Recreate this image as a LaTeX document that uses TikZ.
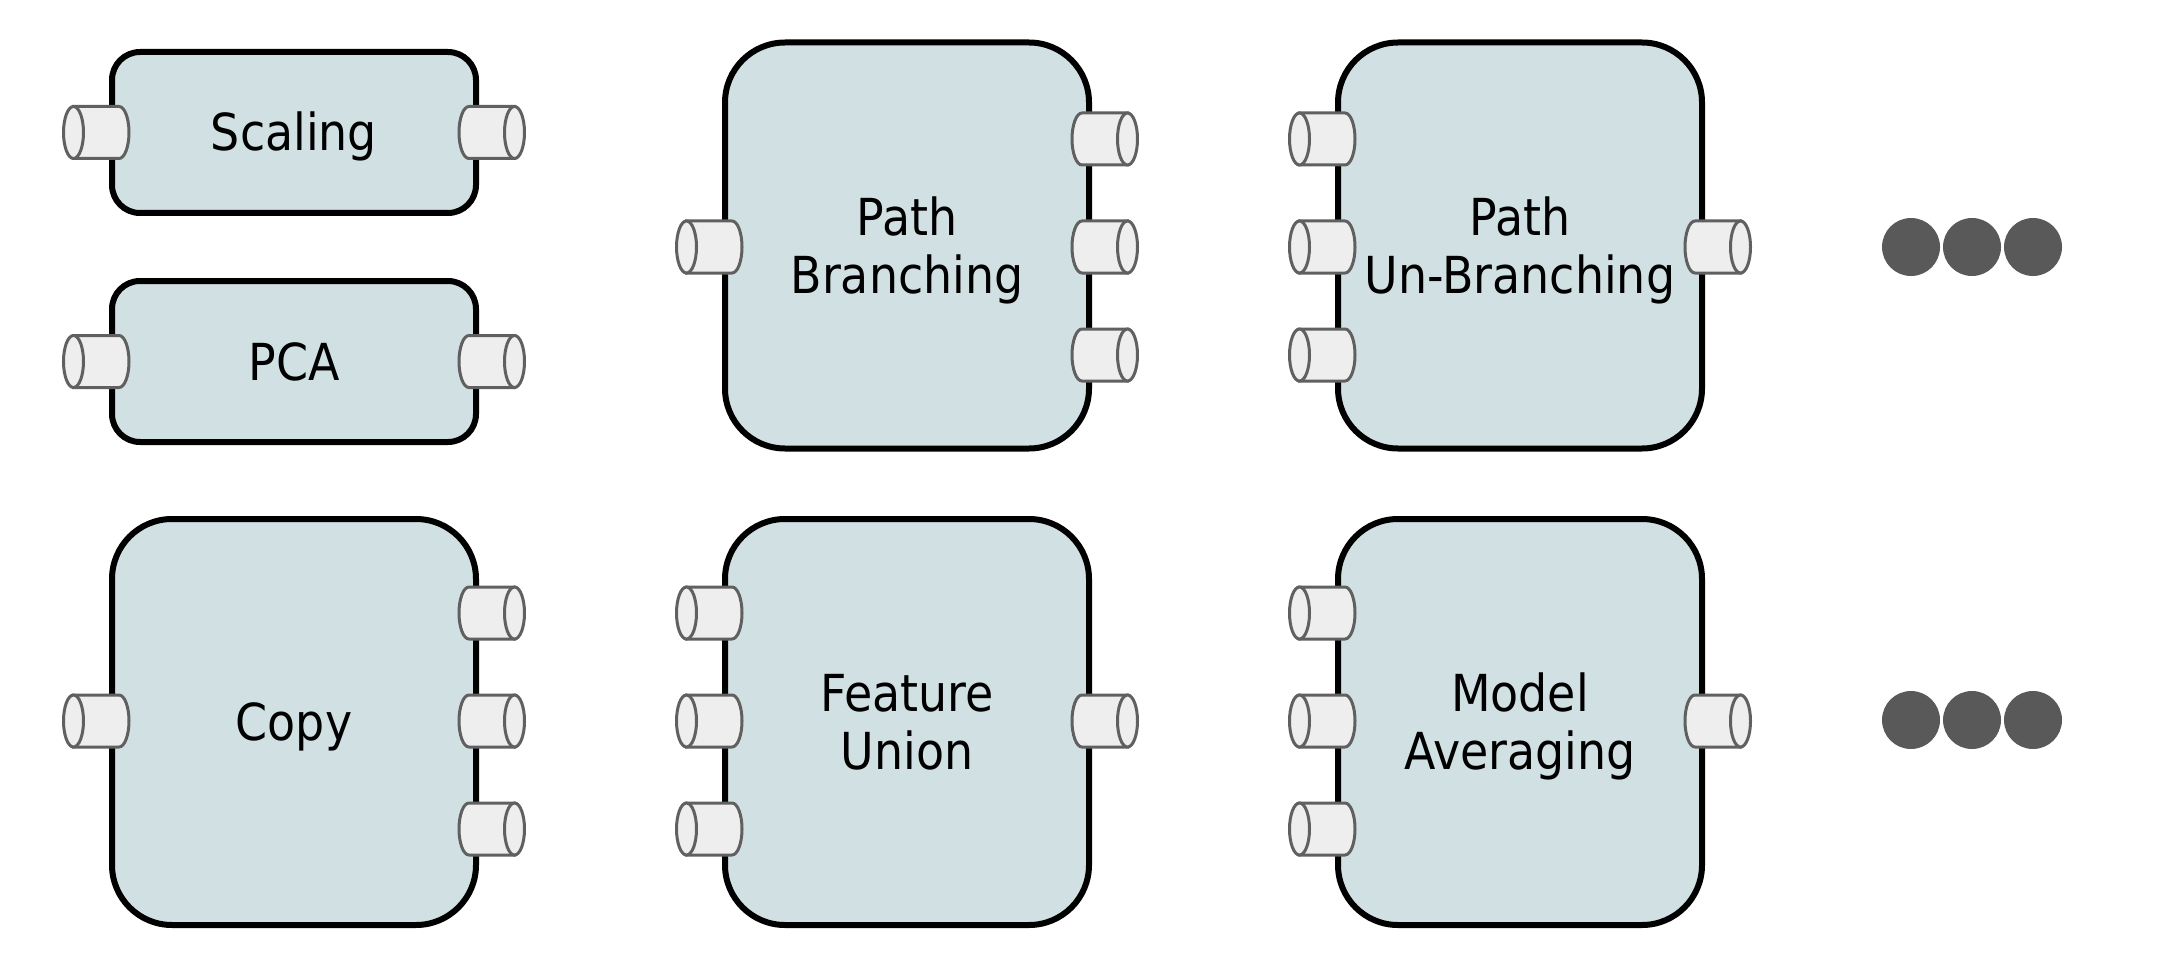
\documentclass[tikz,border=0pt]{standalone}
\usepackage{fontspec}
\setmainfont{DejaVu Sans Condensed}
\definecolor{boxfill}{HTML}{D1E0E3}
\definecolor{portfill}{HTML}{EEEEEE}
\definecolor{portline}{HTML}{606060}
\definecolor{dotfill}{HTML}{595959}
\tikzset{
  blockbox/.style={draw=black, line width=6pt, fill=boxfill, rounded corners=#1,
    minimum width=364pt, align=center, inner sep=0pt,
    font=\fontsize{51}{58}\selectfont},
  blockbox/.default=28pt,
  oneline/.style={text height=37pt, text depth=0pt},
  twoline/.style={text height=95pt, text depth=0pt},
  portpart/.style={draw=portline, fill=portfill, line width=3pt},
  dotcirc/.style={circle, fill=dotfill, minimum size=58pt, inner sep=0pt}
}
\newcommand{\portRight}[2]{%
  \begin{scope}[shift={(#1,#2)}]
    \filldraw[portpart] (38.5,26) -- (-7,26) arc[start angle=90,end angle=270,x radius=10,y radius=26] -- (38.5,-26) -- cycle;
    \filldraw[portpart] (38.5,0) ellipse[x radius=10,y radius=26];
  \end{scope}}
\newcommand{\portLeft}[2]{%
  \begin{scope}[shift={(#1,#2)}]
    \filldraw[portpart] (-38.5,26) -- (7,26) arc[start angle=90,end angle=-90,x radius=10,y radius=26] -- (-38.5,-26) -- cycle;
    \filldraw[portpart] (-38.5,0) ellipse[x radius=10,y radius=26];
  \end{scope}}
\begin{document}
\begin{tikzpicture}[x=1pt,y=1pt]
\useasboundingbox (0,0) rectangle (2184,-960);
% column 1
\node[blockbox, oneline, minimum height=161pt] (scaling) at (294,-132.5) {Scaling};
\portLeft{112}{-132.5}\portRight{476}{-132.5}
\node[blockbox, oneline, minimum height=161pt] (pca) at (294,-361.5) {PCA};
\portLeft{112}{-361.5}\portRight{476}{-361.5}
\node[blockbox=60pt, oneline, minimum height=406pt] (copy) at (294,-722) {Copy};
\portLeft{112}{-721}
\portRight{476}{-613}\portRight{476}{-721}\portRight{476}{-829}
% column 2
\node[blockbox=60pt, twoline, minimum height=406pt] (branch) at (907,-245.5) {Path\\Branching};
\portLeft{725}{-247}
\portRight{1089}{-139}\portRight{1089}{-247}\portRight{1089}{-355}
\node[blockbox=60pt, twoline, minimum height=406pt] (union) at (907,-722) {Feature\\Union};
\portLeft{725}{-613}\portLeft{725}{-721}\portLeft{725}{-829}
\portRight{1089}{-721}
% column 3
\node[blockbox=60pt, twoline, minimum height=406pt] (unbranch) at (1520,-245.5) {Path\\Un-Branching};
\portLeft{1338}{-139}\portLeft{1338}{-247}\portLeft{1338}{-355}
\portRight{1702}{-247}
\node[blockbox=60pt, twoline, minimum height=406pt] (avg) at (1520,-722) {Model\\Averaging};
\portLeft{1338}{-613}\portLeft{1338}{-721}\portLeft{1338}{-829}
\portRight{1702}{-721}
% ellipsis dots
\node[dotcirc] (d1) at (1911,-247) {};
\node[dotcirc] (d2) at (1972,-247) {};
\node[dotcirc] (d3) at (2033,-247) {};
\node[dotcirc] (d4) at (1911,-720) {};
\node[dotcirc] (d5) at (1972,-720) {};
\node[dotcirc] (d6) at (2033,-720) {};
\end{tikzpicture}
\end{document}
